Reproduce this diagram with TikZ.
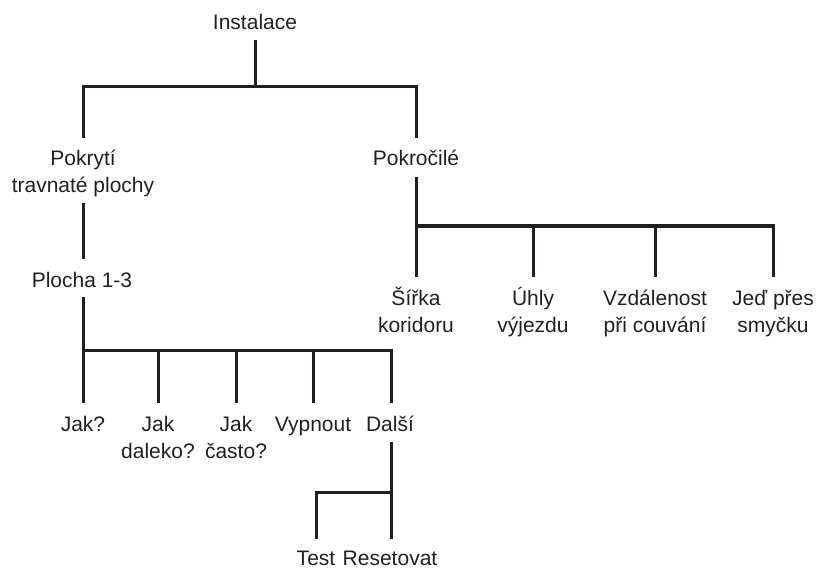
\documentclass[tikz,border=0pt]{standalone}
\usepackage{fontspec}
\setmainfont{Liberation Sans}
\definecolor{ink}{HTML}{231F20}
\begin{document}
\begin{tikzpicture}[x=1pt,y=-1pt,
 lbl/.style={anchor=base, align=center, inner sep=0pt, font=\fontsize{21}{27}\selectfont, text=ink},
 conn/.style={draw=ink, line width=3pt}]
\useasboundingbox (0,0) rectangle (818,569);

% nodes (anchor base = baseline of the last line)
\node[lbl] (inst) at (255,30) {Instalace};
\node[lbl] (pok) at (83,193) {Pokrytí\\travnaté plochy};
\node[lbl] (pro) at (416,166) {Pokročilé};
\node[lbl] (plo) at (82,287) {Plocha 1-3};

\node[lbl] (sir) at (416,332) {Šířka\\koridoru};
\node[lbl] (uhl) at (533,332) {Úhly\\výjezdu};
\node[lbl] (vzd) at (655,332) {Vzdálenost\\při couvání};
\node[lbl] (jed) at (773,332) {Jeď přes\\smyčku};

\node[lbl] (jak) at (83,431) {Jak?};
\node[lbl] (jd) at (158,458) {Jak\\daleko?};
\node[lbl] (jc) at (236,458) {Jak\\často?};
\node[lbl] (vyp) at (313,431) {Vypnout};
\node[lbl] (dal) at (390,431) {Další};

\node[lbl] (test) at (316,565) {Test};
\node[lbl] (res) at (390,565) {Resetovat};

% bars
\coordinate (b1) at (255,87);
\coordinate (b2) at (416,226);
\coordinate (b3) at (83,350);
\coordinate (b4) at (391,492);

% connectors
\draw[conn] ([yshift=-10pt]inst.base) -- (b1);
\draw[conn] ([yshift=55pt]pok.base) |- (b1) -| ([yshift=28pt]pro.base);

\draw[conn] ([yshift=-10pt]pok.base) -- ([yshift=28pt]pok.base |- plo.base);

\draw[conn] ([yshift=-11pt]pro.base) -- (b2) -| ([yshift=55pt]jed.base);
\draw[conn] (b2) -- ([yshift=55pt]sir.base);
\draw[conn] (b2 -| uhl.base) -- ([yshift=55pt]uhl.base);
\draw[conn] (b2 -| vzd.base) -- ([yshift=55pt]vzd.base);

\draw[conn] ([yshift=-10pt]pok.base |- plo.base) -- (b3) -| ([yshift=28pt]b4 |- dal.base);
\draw[conn] (b3) -- ([yshift=28pt]jak.base);
\draw[conn] (b3 -| jd.base) -- ([yshift=55pt]jd.base);
\draw[conn] (b3 -| jc.base) -- ([yshift=55pt]jc.base);
\draw[conn] (b3 -| vyp.base) -- ([yshift=28pt]vyp.base);

\draw[conn] ([yshift=-11pt]b4 |- dal.base) -- ([yshift=26pt]b4 |- res.base);
\draw[conn] (b4) -| ([yshift=26pt]test.base);
\end{tikzpicture}
\end{document}
